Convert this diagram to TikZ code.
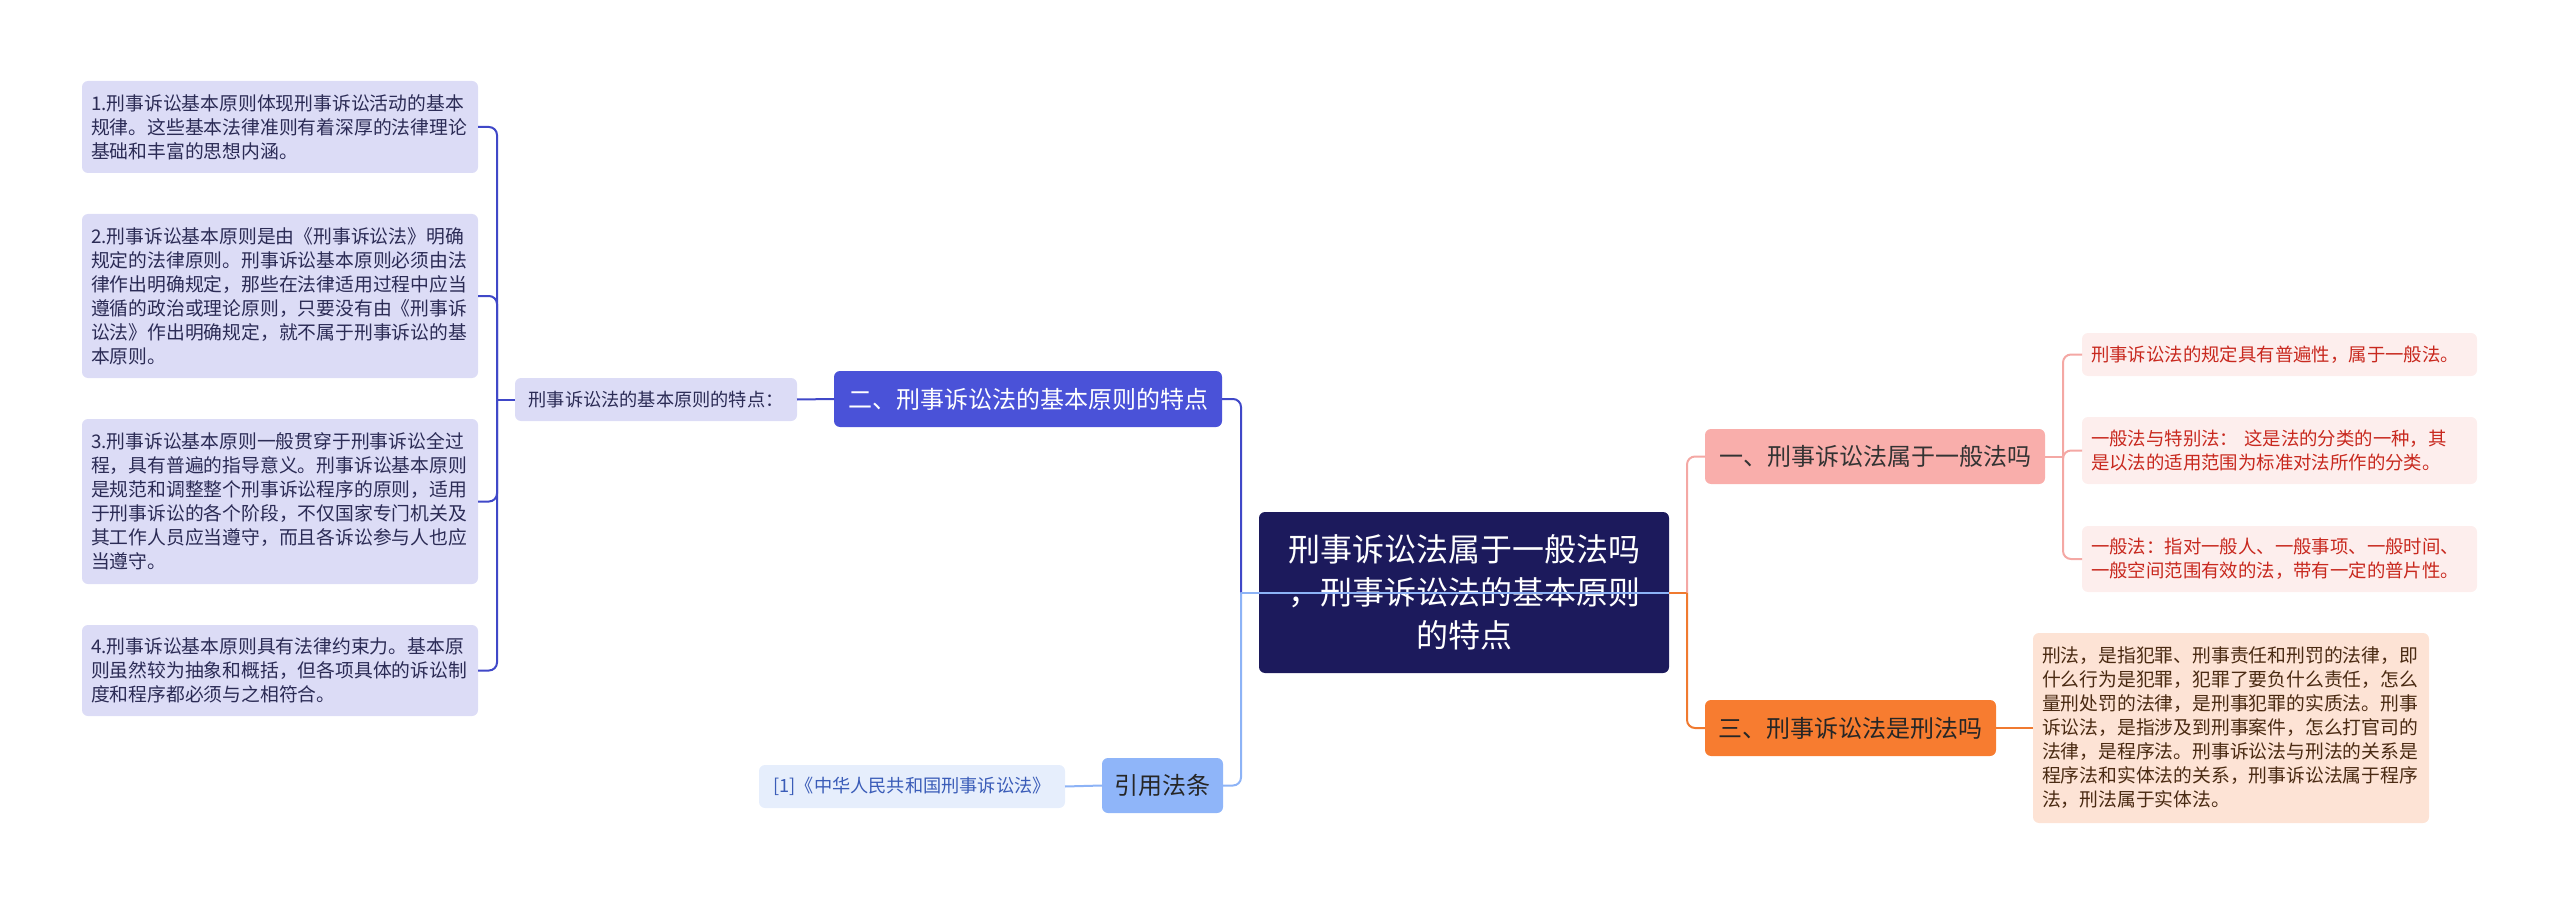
\documentclass[tikz,border=0pt]{standalone}
\usepackage{fontspec}
\setmainfont{Noto Sans CJK SC}
\definecolor{cLeftFill}{HTML}{DCDCF6}
\definecolor{cLeftText}{HTML}{2B2B55}
\definecolor{cTwo}{HTML}{4A52D8}
\definecolor{cCenter}{HTML}{1C1A5C}
\definecolor{cCite}{HTML}{8FB5F9}
\definecolor{cRefFill}{HTML}{E6EEFC}
\definecolor{cRefText}{HTML}{3A5CB8}
\definecolor{cOne}{HTML}{F9AEAB}
\definecolor{cPinkFill}{HTML}{FDEEED}
\definecolor{cPinkText}{HTML}{C8281E}
\definecolor{cThree}{HTML}{F77C30}
\definecolor{cPeach}{HTML}{FDE3D5}
\definecolor{cPeachText}{HTML}{4A2A12}
\definecolor{lnB}{HTML}{4048C8}
\definecolor{lnL}{HTML}{8DB3F6}
\definecolor{lnP}{HTML}{F4A8A4}
\definecolor{lnO}{HTML}{F07A30}
\tikzset{
  every node/.style={inner sep=0pt, outer sep=0pt},
  smallbox/.style={rounded corners=6pt, align=left, inner xsep=9pt, inner ysep=0pt,
    font=\fontsize{18.8}{24}\selectfont},
  leftbox/.style={smallbox, fill=cLeftFill, text=cLeftText, text width=378pt},
  pinkbox/.style={smallbox, fill=cPinkFill, text=cPinkText, text width=377pt, font=\fontsize{18.4}{24}\selectfont},
  topic/.style={rounded corners=6pt, align=center, font=\fontsize{24}{30}\selectfont},
  conn/.style={line width=2pt, rounded corners=8pt},
  lineB/.style={conn, draw=lnB},
  lineL/.style={conn, draw=lnL},
  lineP/.style={conn, draw=lnP},
  lineO/.style={conn, draw=lnO}
}
\begin{document}
\begin{tikzpicture}[x=1pt,y=-1pt]
\useasboundingbox (0,0) rectangle (2560,904);
% left boxes
\node[leftbox, minimum height=92pt] (b1) at (280,127) {1.刑事诉讼基本原则体现刑事诉讼活动的基本\\规律。这些基本法律准则有着深厚的法律理论\\基础和丰富的思想内涵。};
\node[leftbox, minimum height=164pt] (b2) at (280,296) {2.刑事诉讼基本原则是由《刑事诉讼法》明确\\规定的法律原则。刑事诉讼基本原则必须由法\\律作出明确规定，那些在法律适用过程中应当\\遵循的政治或理论原则，只要没有由《刑事诉\\讼法》作出明确规定，就不属于刑事诉讼的基\\本原则。};
\node[leftbox, minimum height=165pt] (b3) at (280,501.5) {3.刑事诉讼基本原则一般贯穿于刑事诉讼全过\\程，具有普遍的指导意义。刑事诉讼基本原则\\是规范和调整整个刑事诉讼程序的原则，适用\\于刑事诉讼的各个阶段，不仅国家专门机关及\\其工作人员应当遵守，而且各诉讼参与人也应\\当遵守。};
\node[leftbox, minimum height=91pt] (b4) at (280,670.5) {4.刑事诉讼基本原则具有法律约束力。基本原\\则虽然较为抽象和概括，但各项具体的诉讼制\\度和程序都必须与之相符合。};
% label node
\node[rounded corners=6pt, fill=cLeftFill, text=cLeftText, minimum width=282pt, minimum height=43pt, font=\fontsize{18.2}{24}\selectfont] (lab) at (656,399.5) {刑事诉讼法的基本原则的特点：};
% level-1 nodes
\node[topic, fill=cTwo, text=white, minimum width=388pt, minimum height=56pt] (two) at (1028,399) {二、刑事诉讼法的基本原则的特点};
\node[topic, fill=cCite, text=black!85, minimum width=121pt, minimum height=55pt] (cite) at (1162.5,785.5) {引用法条};
\node[rounded corners=6pt, fill=cRefFill, text=cRefText, minimum width=306pt, minimum height=43pt, font=\fontsize{18.2}{24}\selectfont] (refn) at (912,786.5) {[1]《中华人民共和国刑事诉讼法》};
\node[topic, fill=cOne, text=black!80, minimum width=340pt, minimum height=55pt] (one) at (1875,456.5) {一、刑事诉讼法属于一般法吗};
\node[topic, fill=cThree, text=black!85, minimum width=291pt, minimum height=56pt] (three) at (1850.5,728) {三、刑事诉讼法是刑法吗};
% center
\node[rounded corners=6pt, fill=cCenter, text=white, align=center, minimum width=410pt, minimum height=161pt, font=\fontsize{32}{43}\selectfont] (center) at (1464,592.5) {刑事诉讼法属于一般法吗\\，刑事诉讼法的基本原则\\的特点};
% right boxes
\node[pinkbox, minimum height=43pt] (r1) at (2279.5,354.5) {刑事诉讼法的规定具有普遍性，属于一般法。};
\node[pinkbox, minimum height=67pt] (r2) at (2279.5,450.5) {一般法与特别法：\ 这是法的分类的一种，其\\是以法的适用范围为标准对法所作的分类。};
\node[pinkbox, minimum height=66pt] (r3) at (2279.5,559) {一般法：指对一般人、一般事项、一般时间、\\一般空间范围有效的法，带有一定的普片性。};
\node[smallbox, fill=cPeach, text=cPeachText, text width=378pt, minimum height=190pt] (peach) at (2231,728) {刑法，是指犯罪、刑事责任和刑罚的法律，即\\什么行为是犯罪，犯罪了要负什么责任，怎么\\量刑处罚的法律，是刑事犯罪的实质法。刑事\\诉讼法，是指涉及到刑事案件，怎么打官司的\\法律，是程序法。刑事诉讼法与刑法的关系是\\程序法和实体法的关系，刑事诉讼法属于程序\\法，刑法属于实体法。};
% bus coordinates
\coordinate (busL) at (497,399.5);
\coordinate (cL) at (1241,592.5);
\coordinate (cR) at (1687,592.5);
\coordinate (busR) at (2063,456.5);
% connectors left
\draw[lineB] (lab.west) -- (busL);
\draw[lineB] (busL) |- (b1.east);
\draw[lineB] (busL) |- (b2.east);
\draw[lineB] (busL) |- (b3.east);
\draw[lineB] (busL) |- (b4.east);
\draw[lineB] (two.west) -- (lab.east);
\draw[lineB] (cL) |- (two.east);
\draw[lineL] (cL) |- (cite.east);
\draw[lineL] (cite.west) -- (refn.east);
\draw[lineL] (center.east) -- (cL);
% connectors right
\draw[lineO] (center.east) -- (cR);
\draw[lineP] (cR) |- (one.west);
\draw[lineO] (cR) |- (three.west);
\draw[lineP] (one.east) -- (busR);
\draw[lineP] (busR) |- (r1.west);
\draw[lineP] (busR) |- (r2.west);
\draw[lineP] (busR) |- (r3.west);
\draw[lineO] (three.east) -- (peach.west);
\end{tikzpicture}
\end{document}
